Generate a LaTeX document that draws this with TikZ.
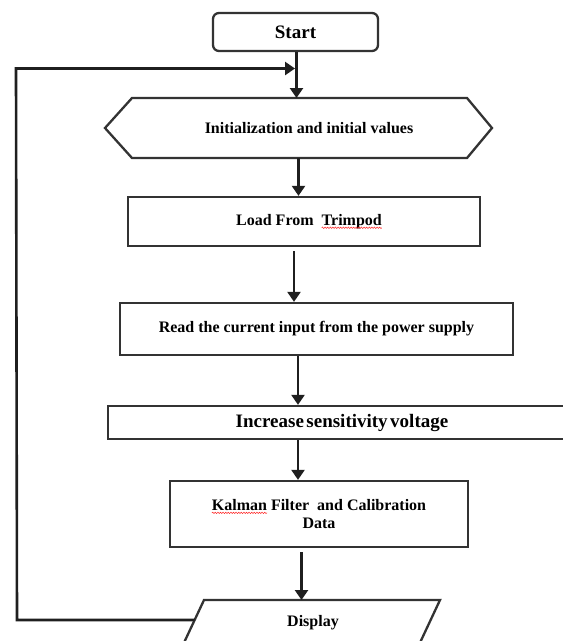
\documentclass[tikz,border=0pt]{standalone}
\usepackage{fontspec}
\setmainfont{Liberation Serif}
\usetikzlibrary{arrows.meta,calc,decorations.pathmorphing}
\newcommand{\sqword}[1]{\tikz[baseline=(w.base)]{\node[inner sep=0pt, outer sep=0pt, minimum width=0pt, minimum height=0pt, draw=none, fill=none, rounded corners=0pt, anchor=base] (w) at (0,0) {#1};
  \draw[overlay, red!85, line width=0.5pt, decorate, decoration={snake,amplitude=0.7pt,segment length=2.6pt}]
    ([yshift=-2.4pt]w.base west) -- ([yshift=-2.4pt]w.base east);}}
\begin{document}
\begin{tikzpicture}[x=1pt,y=-1pt,
  txt/.style={font=\bfseries\fontsize{16}{19}\selectfont, text=black},
  box/.style={txt, draw=black!80, line width=2.3pt, fill=white, inner sep=0pt},
  shp/.style={draw=black!80, line width=2.3pt},
  ln/.style={draw=black!88, line width=2.4pt},
  arr/.style={ln, -{Triangle[length=10pt,width=13pt]}}]
\useasboundingbox (0,0) rectangle (563,641);
\clip (0,0) rectangle (563,641);
% Start
\node[box, rounded corners=6pt, minimum width=165pt, minimum height=38pt,
      font=\bfseries\fontsize{19}{22}\selectfont] (start) at (295.5,32) {Start};
% Hexagon
\coordinate (hl) at (105,128);
\coordinate (hr) at (492,128);
\coordinate (htl) at (132,98);
\coordinate (htr) at (467,98);
\coordinate (hbl) at (132,158);
\coordinate (hbr) at (467,158);
\coordinate (hext) at (296.5,98);
\coordinate (hexb) at (298.5,158);
\draw[shp, line join=miter] (htl) -- (htr) -- (hr) -- (hbr) -- (hbl) -- (hl) -- cycle;
\node[txt, inner sep=0pt] (hex) at (309,128) {Initialization and initial values};
% Load
\node[box, minimum width=352pt, minimum height=49pt] (load) at (304,221.5)
  {\hspace*{10pt}Load From\ \ \sqword{Trimpod}};
% Read
\node[box, minimum width=393pt, minimum height=52pt] (read) at (316.5,329)
  {Read the current input from the power supply};
% Increase
\node[box, minimum width=468pt, minimum height=33pt,
      font=\bfseries\fontsize{19}{22}\selectfont] (inc) at (342,422.5)
  {Increase\hspace{2.5pt}sensitivity\hspace{2.5pt}voltage};
% Kalman
\node[box, minimum width=298pt, minimum height=66pt, align=center] (kal) at (319,514)
  {\sqword{Kalman} Filter\ \ and Calibration\\[-1pt]Data};
% Display parallelogram
\coordinate (dtl) at (204,600);
\coordinate (dtr) at (440,600);
\coordinate (dbr) at (418,647);
\coordinate (dbl) at (182,647);
\draw[shp] (dtl) -- (dtr) -- (dbr) -- (dbl) -- cycle;
\node[txt, inner sep=0pt] (disp) at (313,623) {Display};
\coordinate (dispL) at (194.7,620);
% Arrows
\coordinate (axis) at (298,0);
\draw[arr] (start.south -| hext) -- (hext);
\draw[arr] (hexb) -- (hexb |- load.north);
\draw[arr, shorten <=4pt] ([xshift=-10pt]load.south) -- ([xshift=-10pt]load.south |- read.north);
\draw[arr] (read.south -| axis) -- (inc.north -| axis);
\draw[arr] (inc.south -| axis) -- (kal.north -| axis);
\draw[arr, shorten <=4pt] ([xshift=-17.5pt]kal.south) -- ([xshift=-17.5pt]kal.south |- dtl);
% Loop back
\coordinate (c1) at (17,620);
\coordinate (c2) at (16,68.5);
\coordinate (j) at (295,68.5);
\draw[arr, line width=2.6pt] (dispL) -- (c1) -- (c2) -- (j);
\end{tikzpicture}
\end{document}
